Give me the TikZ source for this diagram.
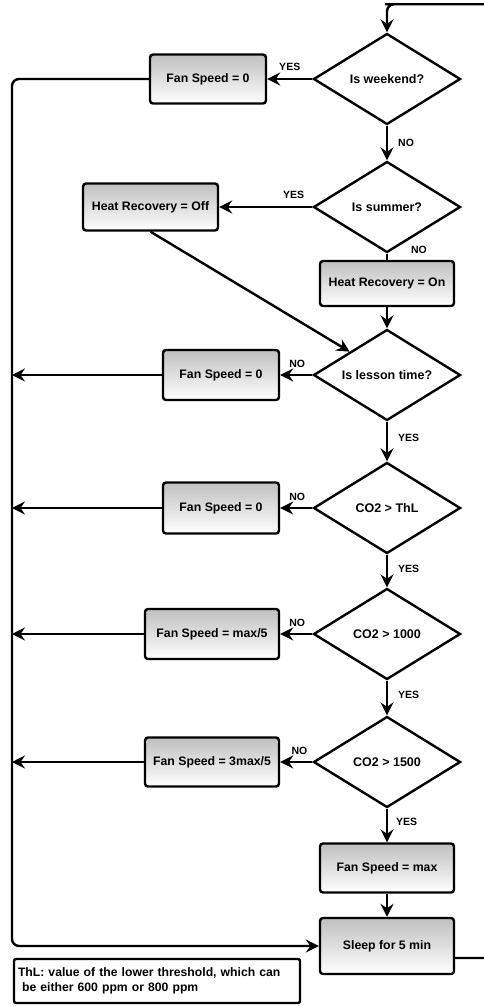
\documentclass[tikz,border=0pt]{standalone}
\usepackage{fontspec}
\setmainfont{Liberation Sans}
\usetikzlibrary{shapes,arrows.meta,calc,positioning}
\tikzstyle{line} = [draw, line width=2.4pt, -{Stealth[length=13pt,width=13pt,inset=4.5pt]}]
\tikzstyle{plain} = [draw, line width=2.4pt]
\tikzstyle{decision} = [diamond, draw, fill=white, line width=2.4pt, aspect=1.6, minimum width=147pt, minimum height=91pt, inner sep=0pt, font=\fontsize{12.5}{14}\selectfont\bfseries]
\tikzstyle{box} = [rectangle, draw, rounded corners=3pt, line width=2.4pt, top color=black!25, bottom color=white, minimum width=134pt, minimum height=49pt, text centered, font=\fontsize{12.3}{14}\selectfont\bfseries]
\tikzstyle{note} = [rectangle, draw, rounded corners=2pt, line width=2.4pt, text width=278pt, inner sep=4pt, minimum height=44pt, align=left, font=\fontsize{12.2}{15}\selectfont\bfseries]
\tikzstyle{lbl} = [inner sep=0pt, font=\fontsize{10.5}{12}\selectfont\bfseries]

\begin{document}
\begin{tikzpicture}
	\useasboundingbox (0,0) rectangle (483pt,-1006pt);

	% main column
	\node [decision] (weekend) at (387pt,-79pt) {Is weekend?};
	\node [decision, below of = weekend, node distance = 128pt] (summer) {Is summer?};
	\node [box, below of = summer, node distance = 76.5pt, minimum height=45pt] (hron) {Heat Recovery = On};
	\node [decision, below of = hron, node distance = 91.5pt] (lesson) {Is lesson time?};
	\node [decision, below of = lesson, node distance = 133pt] (thl) {CO2 > ThL};
	\node [decision, below of = thl, node distance = 126pt] (cmid) {CO2 > 1000};
	\node [decision, below of = cmid, node distance = 128pt] (chigh) {CO2 > 1500};
	\node [box, below of = chigh, node distance = 106pt] (fsmax) {Fan Speed = max};
	\node [box, below of = fsmax, node distance = 78pt, minimum height=56pt] (sleep) {Sleep for 5 min};

	% left column
	\node [box, left of = weekend, node distance = 179pt, minimum width=116pt] (fsweekend) {Fan Speed = 0};
	\node [box, left of = summer, node distance = 236.5pt, minimum width=135pt, minimum height=47pt] (hroff) {Heat Recovery = Off};
	\node [box, left of = lesson, node distance = 166pt, minimum width=116pt, minimum height=50pt] (fslesson) {Fan Speed = 0};
	\node [box, left of = thl, node distance = 166pt, minimum width=116pt, minimum height=51pt] (fsthl) {Fan Speed = 0};
	\node [box, left of = cmid, node distance = 175pt, minimum height=50pt] (fsmid) {Fan Speed = max/5};
	\node [box, left of = chigh, node distance = 175pt] (fshigh) {Fan Speed = 3max/5};

	\node [note] (thlnote) at (157pt,-981pt) {ThL: value of the lower threshold, which can\\ \ be either 600 ppm or 800 ppm};

	\coordinate (bus) at (12pt,0);

	% loop back to the start
	\path [line, rounded corners=7pt] ([yshift=-12pt]sleep.east) -- ++(45pt,0) |- ($(weekend.north)+(5pt,28pt)$) -| (weekend.north);

	\path [line] (weekend.west) -- node [lbl, above=7pt] {YES} (fsweekend.east);
	\path [line, rounded corners=7pt] (fsweekend.west) -| (bus |- sleep.west) -- (sleep.west);
	\path [line] (weekend.south) -- node [lbl, right=10pt] {NO} (summer.north);

	\path [line] (summer.west) -- node [lbl, pos=0.2, above=7pt] {YES} (hroff.east);
	\path [plain] (summer.south) -- node [lbl, pos=0, xshift=32pt, yshift=4pt] {NO} (hron.north);
	\path [line] (hroff.south) -- (lesson.north west);
	\path [line] (hron.south) -- (lesson.north);

	\path [line] (lesson.west) -- node [lbl, pos=0.47, above=6pt] {NO} (fslesson.east);
	\path [line] (fslesson.west) -- (bus |- fslesson.west);
	\path [line] (lesson.south) -- node [lbl, pos=0.4, right=10pt] {YES} (thl.north);

	\path [line] (thl.west) -- node [lbl, pos=0.47, above=6pt] {NO} (fsthl.east);
	\path [line] (fsthl.west) -- (bus |- fsthl.west);
	\path [line] (thl.south) -- node [lbl, pos=0.45, right=10pt] {YES} (cmid.north);

	\path [line] (cmid.west) -- node [lbl, pos=0.47, above=6pt] {NO} (fsmid.east);
	\path [line] (fsmid.west) -- (bus |- fsmid.west);
	\path [line] (cmid.south) -- node [lbl, pos=0.4, right=10pt] {YES} (chigh.north);

	\path [line] (chigh.west) -- node [lbl, pos=0.4, above=6pt] {NO} (fshigh.east);
	\path [line] (fshigh.west) -- (bus |- fshigh.west);
	\path [line] (chigh.south) -- node [lbl, pos=0.4, right=8pt] {YES} (fsmax.north);

	\path [line] (fsmax.south) -- (sleep.north);
\end{tikzpicture}
\end{document}
